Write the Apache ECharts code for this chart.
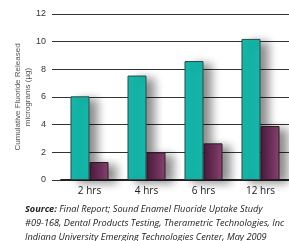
<!DOCTYPE html>
<html>
<head>
<meta charset="utf-8">
<script src="https://cdn.jsdelivr.net/npm/echarts@6/dist/echarts.min.js"></script>
<style>
html, body { margin: 0; padding: 0; background: #fff; }
#chart { width: 289px; height: 241px; }
</style>
</head>
<body>
<div id="chart"></div>
<script>
var categories = ["2 hrs", "4 hrs", "6 hrs", "12 hrs"];
var tealValues = [6.05, 7.55, 8.6, 10.2];
var maroonValues = [1.3, 2.0, 2.65, 3.9];
var sourceLines = [
  "{b|Source:} Final Report; Sound Enamel Fluoride Uptake Study",
  "#09-168, Dental Products Testing, Therametric Technologies, Inc",
  "Indiana University Emerging Technologies Center, May 2009"
];

var chart = echarts.init(document.getElementById("chart"));
var shadow = {
  shadowColor: "rgba(0,0,0,0.45)",
  shadowBlur: 10,
  shadowOffsetX: 8,
  shadowOffsetY: 3
};
var option = {
  animation: false,
  grid: { left: 61, right: 0, top: 14, height: 166 },
  xAxis: {
    type: "category",
    data: categories,
    axisTick: { show: false },
    axisLine: { lineStyle: { color: "#222", width: 2 } },
    axisLabel: { color: "#222", fontSize: 10, fontFamily: "Open Sans", margin: 6 }
  },
  yAxis: {
    type: "value",
    min: 0, max: 12, interval: 2,
    name: "Cumulative Fluoride Released\nmicrograms (µg)",
    nameLocation: "middle",
    nameGap: 28,
    nameMoveOverlap: false,
    nameTextStyle: { color: "#555", fontSize: 8, fontFamily: "Liberation Sans", lineHeight: 10 },
    axisLine: { show: false },
    axisTick: { show: true, inside: false, length: 9, lineStyle: { color: "#333" } },
    axisLabel: { color: "#333", fontSize: 9, fontFamily: "Liberation Sans", margin: 15 },
    splitLine: { lineStyle: { color: "#333", width: 1 } }
  },
  series: [
    {
      type: "bar",
      data: tealValues,
      barWidth: 19,
      barGap: "0%",
      itemStyle: Object.assign({ color: "#14B9AC", borderColor: "#2d4a48", borderWidth: 1 }, shadow),
      z: 2
    },
    {
      type: "bar",
      data: maroonValues,
      barWidth: 19,
      barGap: "0%",
      itemStyle: Object.assign({
        color: new echarts.graphic.LinearGradient(0, 0, 1, 0, [
          { offset: 0, color: "#4a1a3c" },
          { offset: 1, color: "#8c4474" }
        ]),
        borderColor: "#2a1a24", borderWidth: 1
      }, shadow),
      z: 3
    }
  ],
  graphic: sourceLines.map(function (t, i) {
    return {
      type: "text",
      left: 25,
      top: 205 + i * 14,
      style: {
        text: t,
        fill: "#222",
        font: "italic 9.2px 'Open Sans'",
        rich: { b: { fontWeight: "bold", fontStyle: "italic", fontSize: 9.2, fontFamily: "Open Sans", fill: "#222" } }
      }
    };
  })
};
chart.setOption(option);
</script>
</body>
</html>
